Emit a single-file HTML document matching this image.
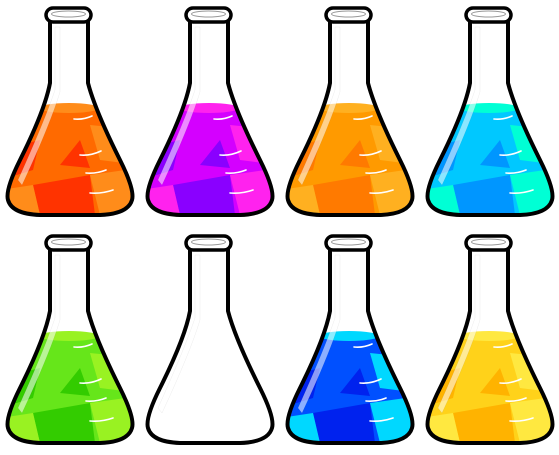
<!DOCTYPE html>
<html><head><meta charset="utf-8"><style>
html,body{margin:0;padding:0;background:#fff;width:559px;height:455px;overflow:hidden}
</style></head><body>
<svg id="art" width="559" height="455" viewBox="0 0 559 455" xmlns="http://www.w3.org/2000/svg">
<defs>
<clipPath id="body"><path d="M50,20 L50,83 Q45,110 20,160 Q5,190 8,200 Q12,214 40,215 L100,215 Q128,214 132,200 Q135,190 120,160 Q95,110 88,83 L88,20 Z"/></clipPath>
</defs>
</svg>
<script>
const flaskNames=['orange-red-flask','purple-flask','orange-flask','cyan-flask','green-flask','empty-flask','blue-flask','yellow-flask'];
const mainColors=['#ff6a00','#d400ff','#ff9a00','#00c8ff','#66e61a',null,'#0050ff','#ffd21a'];
const darkColors=['#ff3300','#8a00ff','#ff7a00','#0096ff','#33cc00',null,'#0022ee','#ffb300'];
const lightColors=['#ff8c1a','#ff22ee','#ffb020','#00ffd5','#99f222',null,'#00d8ff','#ffe840'];
const NS='http://www.w3.org/2000/svg';
const svg=document.getElementById('art');
const outline="M50,20 L50,83 Q45,110 20,160 Q5,190 8,200 Q12,214 40,215 L100,215 Q128,214 132,200 Q135,190 120,160 Q95,110 88,83 L88,20";
function mk(tag,attrs,parent){const e=document.createElementNS(NS,tag);for(const k in attrs)e.setAttribute(k,attrs[k]);parent.appendChild(e);return e;}
for(let i=0;i<8;i++){
  const col=i%4,row=Math.floor(i/4);
  const g=mk('g',{transform:`translate(${col*140},${row*228})`},svg);
  
  
  mk('path',{d:outline+' Z',fill:'#fff'},g);
  if(mainColors[i]){
    const lq=mk('g',{'clip-path':'url(#body)'},g);
    
    
    mk('rect',{x:0,y:105,width:140,height:115,fill:mainColors[i]},lq);
    mk('ellipse',{cx:69,cy:108,rx:30,ry:5,fill:lightColors[i]},lq);
    mk('polygon',{points:'0,150 40,140 33,170 0,180',fill:darkColors[i]},lq);
    mk('polygon',{points:'80,140 60,165 90,168',fill:darkColors[i]},lq);
    mk('polygon',{points:'33,185 90,175 95,215 40,215',fill:darkColors[i]},lq);
    mk('polygon',{points:'90,175 140,168 140,215 100,215',fill:lightColors[i]},lq);
    mk('polygon',{points:'90,125 140,130 140,165 100,160',fill:lightColors[i]},lq);
    mk('polygon',{points:'0,190 33,185 40,215 0,215',fill:lightColors[i]},lq);
  }
  mk('path',{d:'M55,27 L55,90 Q45,120 18,180 L22,185 Q50,125 60,92 L60,27 Z',fill:'rgba(255,255,255,0.55)',stroke:'rgba(0,0,0,0.08)','stroke-width':0.5},g);
  [[74,119,92,116],[80,155,101,151],[86,173,106,170],[90,193,113,190]].forEach(t=>{
    mk('path',{d:`M${t[0]},${t[1]} Q${(t[0]+t[2])/2},${t[1]+1} ${t[2]},${t[3]}`,stroke:'#fff','stroke-width':1.6,fill:'none','stroke-linecap':'round'},g);
  });
  mk('path',{d:outline,fill:'none',stroke:'#000','stroke-width':4,'stroke-linejoin':'round'},g);
  const rim=mk('rect',{x:46,y:8,width:45,height:14,rx:7,fill:'#fff',stroke:'#000','stroke-width':3.5},g);
  
  
  mk('ellipse',{cx:68.5,cy:14,rx:17,ry:3,fill:'none',stroke:'#999','stroke-width':1},g);
}
</script>
</body></html>
